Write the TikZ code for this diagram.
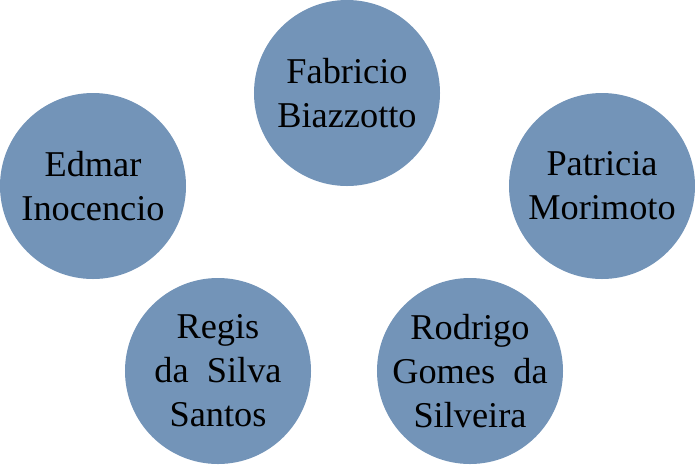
\documentclass[tikz,border=0pt]{standalone}
\usepackage{fontspec}
\setmainfont{Liberation Serif}
\usetikzlibrary{positioning}
\definecolor{cblue}{HTML}{7394B8}
\tikzset{
  every picture/.style={x=0.03cm, y=-0.03cm},
  person/.style={circle, fill=cblue, draw=none, minimum size=5.58cm, inner sep=0pt,
    label={[pname]center:#1}},
  pname/.style={align=center, inner sep=0pt, font=\fontsize{31pt}{37.5pt}\selectfont},
}
\begin{document}
\begin{tikzpicture}
  \useasboundingbox (0,0) rectangle (695,464);

  % five people round the ring
  \node[person={Fabricio\\Biazzotto}] (fab) at (347,93) {};
  \node[person={Edmar\\Inocencio}] (edm) at (93,186) {};
  \node[person={Patricia\\Morimoto}] (pat) at (602,186) {};
  \node[person={Regis\\da~~Silva\\Santos}] (reg) at (218,371) {};
  \node[person={Rodrigo\\Gomes~~da\\Silveira}] (rod) at (470,371) {};
\end{tikzpicture}
\end{document}
